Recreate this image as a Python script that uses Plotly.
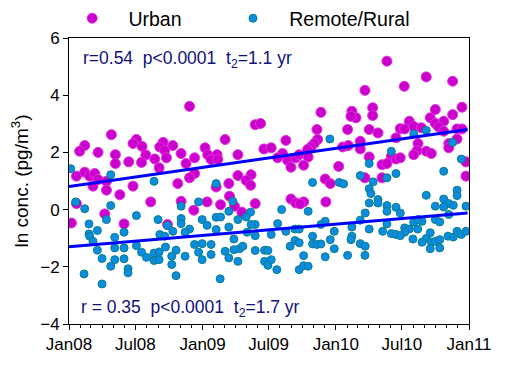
import pandas as pd
import plotly.graph_objects as go

# time as years since Jan 2008, values as ln concentration
urban_t = [0.318, 0.118, 0.080, 0.218, 0.348, 0.348, 0.448, 0.506, 0.480, 0.548, 0.576, 0.544, 0.643, 0.676,
           0.706, 0.681, 0.718, 0.731, 0.056, 0.118, 0.155, 0.193, 0.218, 0.180, 0.281, 0.281, 0.381, 0.480,
           0.613, 0.056, 0.268, 0.018, 0.413, 0.739,
           0.904, 1.397, 1.437, 1.171, 0.779, 1.021, 0.841, 0.942, 1.041, 1.111, 1.066, 1.116, 1.267, 1.462,
           1.517, 0.878, 0.942, 0.904, 0.816, 1.267, 1.366, 1.329, 1.362, 1.199, 1.104, 0.841, 0.936,
           1.036, 1.137, 1.204, 1.242, 1.297, 1.397,
           2.220, 1.890, 2.122, 2.153, 2.115, 2.278, 2.278, 1.860, 2.090, 2.252, 1.627, 1.865, 1.839, 1.815,
           1.790, 1.602, 1.565, 1.640, 1.702, 1.727, 1.794, 1.665, 1.760, 2.053, 2.095, 2.185, 2.185,
           2.252, 2.023, 1.922, 1.960, 2.220, 1.665, 1.702, 1.760, 1.734, 1.927,
           2.385, 2.680, 2.878, 2.515, 2.748, 2.948, 2.710, 2.878, 2.553, 2.748, 2.811, 2.485, 2.518, 2.586,
           2.643, 2.773, 2.811, 2.911, 2.948, 2.318, 2.453, 2.911, 2.618, 2.849, 2.849, 2.611, 2.586, 2.680,
           2.718, 2.418, 2.453, 2.485, 2.348, 2.385, 2.978, 2.348, 2.978]
urban_v = [2.62, 2.24, 2.04, 2.00, 1.92, 1.61, 1.67, 2.45, 2.31, 2.21, 1.91, 1.65, 1.77, 1.46,
           2.35, 2.19, 2.07, 1.81, 1.17, 1.31, 1.17, 1.26, 1.05, 0.82, 0.99, 0.68, 0.52, 0.82,
           0.27, 0.21, -0.15, -0.47, -0.50, -0.52,
           3.61, 2.97, 3.01, 2.45, 2.24, 2.16, 1.96, 1.81, 1.92, 1.92, 1.75, 1.75, 1.92, 2.12,
           2.16, 1.61, 1.26, 1.11, 0.91, 1.19, 1.22, 1.02, 0.85, 0.91, 0.79, 0.29, -0.02,
           0.27, 0.17, 0.47, 0.12, -0.09, 0.21,
           4.17, 3.40, 3.44, 3.21, 3.26, 3.56, 3.29, 2.80, 2.80, 2.80, 2.42, 2.45, 2.31, 2.19,
           2.10, 1.96, 1.81, 1.72, 1.81, 1.92, 1.84, 1.48, 1.55, 2.19, 2.24, 2.39, 2.12,
           1.84, 1.51, 1.07, 0.91, 1.11, 0.37, 0.23, 0.27, 0.20, 0.27,
           5.19, 4.64, 4.49, 4.31, 3.50, 3.58, 3.21, 3.32, 3.09, 3.01, 3.09, 2.83, 2.82, 2.91,
           2.86, 2.89, 2.74, 2.82, 2.82, 2.68, 2.51, 2.47, 2.31, 2.31, 2.16, 2.06, 1.92, 2.04,
           1.96, 1.86, 1.77, 1.81, 1.57, 1.61, 1.67, 1.11, 1.17]

rural_t = [0.013, 0.313, 0.638, 0.050, 0.118, 0.313, 0.506, 0.281, 0.150, 0.213, 0.150, 0.155, 0.343, 0.413,
           0.668, 0.681, 0.718, 0.739, 0.180, 0.213, 0.343, 0.413, 0.506, 0.544, 0.581, 0.638, 0.676, 0.638,
           0.676, 0.248, 0.343, 0.413, 0.313, 0.443, 0.443, 0.113, 0.248, 0.724,
           1.104, 0.841, 0.972, 1.229, 1.199, 0.841, 0.841, 0.999, 1.104, 1.137, 1.267, 1.362, 1.329, 1.397,
           1.366, 1.036, 0.904, 0.871, 0.779, 1.104, 1.199, 1.336, 1.237, 1.397, 1.517, 0.942, 0.999, 1.066,
           1.171, 1.237, 1.279, 1.304, 1.397, 1.467, 1.492, 0.803, 0.972, 0.771, 0.871, 1.066, 1.199, 1.267,
           0.999, 0.771, 1.467, 1.492, 1.517, 0.803, 1.134,
           1.957, 2.252, 2.185, 2.282, 2.252, 1.827, 2.027, 2.060, 2.265, 2.252, 1.595, 1.794, 2.222, 1.565,
           2.185, 1.922, 1.890, 1.695, 1.727, 1.627, 1.990, 2.122, 2.252, 1.827, 2.122, 2.115, 1.960, 1.695,
           1.727, 1.659, 1.827, 1.860, 1.890, 2.185, 2.222, 1.990, 1.760, 1.922, 2.090, 2.220, 1.559, 1.727,
           1.760, 1.794,
           2.680, 2.878, 2.586, 2.418, 2.943, 2.453, 2.385, 2.811, 2.318, 2.318, 2.680, 2.911, 2.911, 2.811,
           2.849, 2.883, 2.748, 2.811, 2.978, 2.385, 2.453, 2.385, 2.485, 2.849, 2.748, 2.781, 2.648, 2.586,
           2.618, 2.385, 2.518, 2.553, 2.518, 2.616, 2.353, 2.418, 2.453, 2.485, 2.710, 2.680, 2.648, 2.580,
           2.718, 2.748, 2.781, 2.781, 2.710, 2.843, 2.883, 2.911, 2.943, 2.978]
rural_v = [1.43, 1.22, 0.99, 0.27, 0.03, 0.14, -0.21, -0.35, -0.50, -0.73, -0.85, -0.93, -0.97, -0.79,
           -0.35, -0.87, -0.93, -0.56, -1.11, -1.42, -1.34, -1.34, -1.26, -1.49, -1.67, -1.52, -1.48, -1.78,
           -1.75, -1.71, -1.75, -1.72, -1.98, -2.07, -2.21, -2.25, -2.60, -1.31,
           0.91, 0.12, 0.27, 0.29, -0.06, -0.31, -0.49, -0.35, -0.27, -0.26, -0.35, -0.09, -0.26, -0.52,
           -0.52, -0.55, -0.68, -0.79, -0.76, -0.70, -0.61, -0.79, -1.03, -0.91, -0.87, -1.22, -1.19, -1.22,
           -1.46, -1.40, -1.37, -1.28, -1.43, -1.42, -1.43, -1.42, -1.49, -1.63, -1.63, -1.57, -1.69, -1.81,
           -1.75, -1.92, -1.81, -1.95, -1.75, -2.31, -2.42,
           2.47, 1.61, 1.19, 0.97, 0.73, 0.95, 0.95, 0.90, 0.56, 0.23, 0.00, -0.06, -0.12, -0.49,
           -0.37, -0.41, -0.52, -0.68, -0.68, -0.76, -0.76, -0.61, -0.68, -0.93, -0.93, -1.05, -1.05, -1.08,
           -1.16, -1.28, -1.20, -1.22, -1.20, -1.19, -1.28, -1.37, -1.61, -1.65, -1.60, -1.60, -2.10, -2.10,
           -1.96, -1.98,
           2.77, 2.35, 2.65, 2.04, 1.77, 1.26, 1.11, 1.34, 0.35, 0.23, 0.50, 0.68, 0.49, 0.37,
           0.21, 0.15, 0.12, 0.09, 0.12, 0.14, 0.08, -0.06, -0.12, -0.17, -0.35, -0.43, -0.41, -0.44,
           -0.35, -0.50, -0.64, -0.68, -0.79, -0.68, -0.76, -0.84, -0.87, -0.91, -0.81, -1.01, -1.14, -1.03,
           -1.14, -1.11, -1.05, -1.34, -1.37, -0.93, -0.96, -0.76, -0.87, -0.76]

# fitted trend lines (years since Jan 2008 -> ln conc.)
fit_t = [0.0, 2.99]
urban_fit = [0.81, 2.80]
rural_fit = [-1.30, -0.12]

y_ticks = [-4, -2, 0, 2, 4, 6]
x_range = ["2008-01-01", "2011-01-01"]

start = pd.Timestamp("2008-01-01")
def to_date(ts):
    return [start + pd.Timedelta(days=t * 365.25) for t in ts]

FONT = "Arial, Liberation Sans"
nb = "\u00a0"

fig = go.Figure()
fig.add_trace(go.Scatter(x=to_date(urban_t), y=urban_v, mode="markers", name=nb * 3 + "Urban",
                         legend="legend",
                         marker=dict(size=10, color="#cc00cc", line=dict(color="#e030e0", width=1))))
fig.add_trace(go.Scatter(x=to_date(rural_t), y=rural_v, mode="markers", name=nb * 3 + "Remote/Rural",
                         legend="legend2",
                         marker=dict(size=8, color="#0a8ce2", line=dict(color="#0a8088", width=1))))
fig.add_trace(go.Scatter(x=to_date(fit_t), y=urban_fit, mode="lines", showlegend=False,
                         line=dict(color="#0000ff", width=3)))
fig.add_trace(go.Scatter(x=to_date(fit_t), y=rural_fit, mode="lines", showlegend=False,
                         line=dict(color="#0000ff", width=3)))

fig.add_annotation(x=0.03, y=0.925, xref="paper", yref="paper", xanchor="left", yanchor="middle",
                   text=f"r=0.54{nb}{nb}p<0.0001{nb}{nb}t<sub>2</sub>=1.1 yr", showarrow=False,
                   font=dict(family=FONT, size=17.5, color="#10107a"))
fig.add_annotation(x=0.025, y=0.055, xref="paper", yref="paper", xanchor="left", yanchor="middle",
                   text=f"r = 0.35{nb}{nb}p<0.0001{nb}{nb}t<sub>2</sub>=1.7 yr", showarrow=False,
                   font=dict(family=FONT, size=17.5, color="#10107a"))

leg = dict(orientation="h", y=1.068, xanchor="left", yanchor="middle",
           font=dict(size=19.5), bgcolor="rgba(0,0,0,0)")

# page body has an 8px margin, so the figure is sized/margined to land the plot area at 69..469 x 38..324
fig.update_layout(
    width=497, height=357,
    margin=dict(l=61, r=36, t=30, b=41, autoexpand=False),
    paper_bgcolor="white", plot_bgcolor="white",
    font=dict(family=FONT, size=17, color="black"),
    showlegend=True,
    legend=dict(leg, x=0.008),
    legend2=dict(leg, x=0.41),
    xaxis=dict(type="date", range=x_range, dtick="M6", tick0="2008-01-01", tickformat="%b%y",
               ticks="outside", ticklen=5, tickcolor="black", showgrid=False, zeroline=False,
               showline=True, linecolor="black", linewidth=1, mirror=True,
               minor=dict(dtick="M1", ticks="outside", ticklen=3, tickcolor="black", showgrid=False)),
    yaxis=dict(range=[-4, 6], tickvals=y_ticks, ticks="outside", ticklen=5, tickcolor="black",
               showgrid=False, zeroline=False, showline=True, linecolor="black", linewidth=1, mirror=True,
               title=dict(text="ln conc. (pg/m<sup>3</sup>)", font=dict(size=19), standoff=8)),
)

fig.write_html("out.html")
